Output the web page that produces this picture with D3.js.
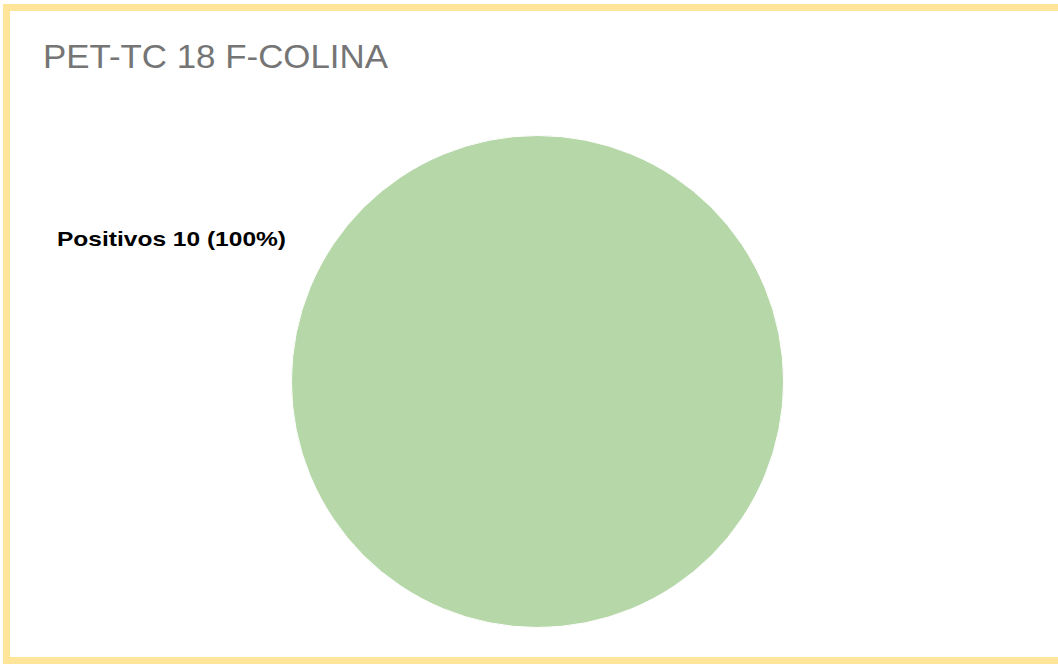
<!DOCTYPE html>
<html>
<head>
<meta charset="utf-8">
<script src="https://cdn.jsdelivr.net/npm/d3@7"></script>
<style>
  html, body { margin: 0; padding: 0; background: #fff; }
  svg { display: block; }
</style>
</head>
<body>
<svg id="chart" width="1058" height="664"></svg>
<script>
// Resultados PET-TC con 18F-colina
const categories = ["Positivos"];
const counts = [10];
const colors = ["#b6d7a8"];
const title = "PET-TC 18 F-COLINA";

const svg = d3.select("#chart");
const W = 1058, H = 664;

// Marco amarillo del gráfico
svg.append("rect")
  .attr("x", 6.5).attr("y", 7.5)
  .attr("width", W + 10).attr("height", H - 11)
  .attr("fill", "#fff")
  .attr("stroke", "#ffe599")
  .attr("stroke-width", 7);

svg.append("text")
  .attr("x", 43).attr("y", 68)
  .attr("font-family", "Liberation Sans, Arial, sans-serif")
  .attr("font-size", 32.5)
  .attr("fill", "#757575")
  .attr("textLength", 345)
  .attr("lengthAdjust", "spacingAndGlyphs")
  .text(title);

const cx = 537.5, cy = 381.5, r = 246;
const total = d3.sum(counts);
const data = categories.map((c, i) => ({ name: c, value: counts[i], color: colors[i] }));

const pie = d3.pie().value(d => d.value).sort(null);
const arc = d3.arc().innerRadius(0).outerRadius(r);

const g = svg.append("g").attr("transform", `translate(${cx},${cy})`);
g.selectAll("path")
  .data(pie(data))
  .join("path")
  .attr("d", arc)
  .attr("fill", d => d.data.color)
  .attr("stroke", "#fff")
  .attr("stroke-width", 1);

// Etiqueta de la porción
const fmtPct = d3.format(".0%");
svg.selectAll("text.slice-label")
  .data(data)
  .join("text")
  .attr("class", "slice-label")
  .attr("x", 57).attr("y", 246)
  .attr("font-family", "Liberation Sans, Arial, sans-serif")
  .attr("font-size", 21)
  .attr("font-weight", "bold")
  .attr("fill", "#000")
  .attr("textLength", 229)
  .attr("lengthAdjust", "spacingAndGlyphs")
  .text(d => `${d.name} ${d.value} (${fmtPct(d.value / total)})`);
</script>
</body>
</html>
